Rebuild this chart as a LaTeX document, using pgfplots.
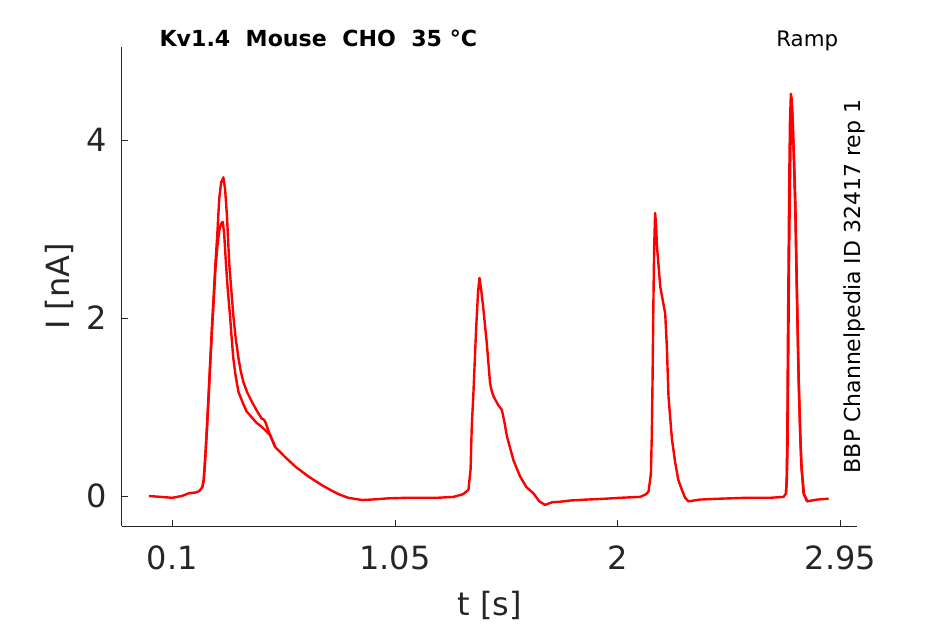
\documentclass[border=0pt]{standalone}
\usepackage{fontspec}
\setmainfont{DejaVu Sans}
\usepackage{pgfplots}
\pgfplotsset{compat=1.18}
\definecolor{axgray}{HTML}{262626}
\definecolor{tracered}{HTML}{FF0000}
\begin{document}
\begin{tikzpicture}
\useasboundingbox (-91.5pt,-73.5pt) rectangle (617.25pt,394.5pt);
\begin{axis}[
  at={(0,0)}, anchor=south west,
  scale only axis, width=551.25pt, height=359.25pt,
  xmin=-0.1146, xmax=3.020, ymin=-0.337, ymax=5.045,
  axis x line*=bottom, axis y line*=left,
  axis line style={color=axgray, line width=0.75pt, -},
  xtick={0.1,1.05,2,2.95}, xticklabels={0.1,1.05,2,2.95},
  ytick={0,2,4},
  tick align=inside, major tick length=4.5pt,
  tick style={color=axgray, line width=0.75pt},
  /pgf/number format/assume math mode=true,
  ticklabel style={font=\fontsize{24}{28}\selectfont, text=axgray},
  xticklabel style={yshift=-11pt},
  yticklabel style={xshift=-7.5pt},
  xlabel={t [s]}, ylabel={I [nA]},
  xlabel style={at={(rel axis cs:0.5,0)}, anchor=center, yshift=-59.25pt, font=\fontsize{24}{28}\selectfont, text=axgray},
  ylabel style={at={(rel axis cs:0,0.5)}, anchor=center, rotate=0, yshift=47.25pt, font=\fontsize{24}{28}\selectfont, text=axgray},
  clip=false,
]
\addplot[color=tracered, line width=1.8pt, line join=round] coordinates {
(0,0) (0.05,-0.01) (0.1,-0.02) (0.14,0.0) (0.17,0.03) (0.2,0.04) (0.215,0.056) (0.228,0.10)
(0.234,0.18) (0.241,0.45) (0.248,0.78) (0.255,1.15) (0.262,1.53) (0.270,1.95) (0.277,2.28)
(0.284,2.62) (0.292,2.95) (0.300,3.34) (0.308,3.52) (0.3176,3.58) (0.325,3.45) (0.333,3.15)
(0.343,2.60) (0.352,2.30) (0.360,2.03) (0.370,1.78) (0.382,1.55) (0.392,1.40) (0.403,1.28)
(0.420,1.16) (0.439,1.06) (0.460,0.96) (0.481,0.87) (0.490,0.86) (0.497,0.83) (0.505,0.77)
(0.517,0.685) (0.539,0.55) (0.58,0.44) (0.625,0.33) (0.68,0.22) (0.739,0.12) (0.78,0.06)
(0.810,0.02) (0.85,-0.02) (0.909,-0.045) (0.95,-0.04) (1.023,-0.026) (1.1,-0.02) (1.165,-0.02)
(1.23,-0.02) (1.299,-0.01) (1.34,0.02) (1.363,0.07) (1.372,0.30) (1.377,0.78) (1.384,1.15)
(1.396,1.90) (1.404,2.30) (1.410,2.45) (1.418,2.30) (1.427,2.09) (1.441,1.72) (1.455,1.27)
(1.462,1.18) (1.470,1.12) (1.490,1.02) (1.505,0.97) (1.515,0.85) (1.527,0.67) (1.555,0.40)
(1.583,0.22) (1.610,0.10) (1.640,0.03) (1.665,-0.06) (1.690,-0.10) (1.72,-0.07) (1.754,-0.064)
(1.8,-0.05) (1.868,-0.04) (1.95,-0.03) (2.010,-0.02) (2.095,-0.01) (2.12,0.02) (2.131,0.05)
(2.141,0.25) (2.145,0.70) (2.148,1.30) (2.152,2.24) (2.155,2.80) (2.159,3.18) (2.163,3.05)
(2.167,2.80) (2.181,2.35) (2.195,2.15) (2.202,2.05) (2.209,1.68) (2.216,1.12) (2.231,0.63)
(2.245,0.37) (2.258,0.18) (2.273,0.07) (2.287,-0.02) (2.301,-0.06) (2.35,-0.04) (2.436,-0.03)
(2.55,-0.02) (2.65,-0.02) (2.707,-0.01) (2.717,0.03) (2.720,0.18) (2.723,0.8) (2.725,1.68)
(2.728,2.6) (2.731,3.55) (2.734,4.2) (2.738,4.52) (2.742,4.45) (2.747,4.11) (2.752,3.7)
(2.757,3.18) (2.764,2.2) (2.771,1.30) (2.777,0.75) (2.782,0.37) (2.792,0.03) (2.807,-0.06)
(2.85,-0.04) (2.899,-0.03)
};
\addplot[color=tracered, line width=1.8pt, line join=round] coordinates {
(0.228,0.10) (0.234,0.18) (0.241,0.45) (0.248,0.78) (0.255,1.12) (0.262,1.50) (0.270,1.90)
(0.277,2.22) (0.284,2.55) (0.292,2.80) (0.300,2.98) (0.308,3.06) (0.315,3.08) (0.321,2.95)
(0.329,2.60) (0.337,2.30) (0.346,2.03) (0.353,1.78) (0.360,1.55) (0.370,1.35) (0.382,1.17)
(0.40,1.05) (0.417,0.95) (0.44,0.88) (0.460,0.82) (0.475,0.79) (0.488,0.76) (0.50,0.73)
(0.517,0.685) (0.539,0.55)
};
\addplot[color=tracered, line width=1.8pt, line join=round] coordinates {
(2.717,0.03) (2.721,0.2) (2.724,0.6) (2.727,1.6) (2.730,2.6) (2.734,3.5) (2.738,4.2)
(2.742,4.38) (2.746,4.2) (2.751,3.8) (2.757,3.3) (2.764,2.3) (2.771,1.35) (2.778,0.7)
(2.784,0.3) (2.794,0.02) (2.807,-0.05)
};
\node[anchor=base west, inner sep=0, font=\bfseries\fontsize{16.6}{19}\selectfont] at (rel axis cs:0.0507,1) {Kv1.4\ \ Mouse\ \ CHO\ \ 35 °C};
\node[anchor=base east, inner sep=0, font=\fontsize{16}{19}\selectfont] at (rel axis cs:0.9746,1) {Ramp};
\node[rotate=90, anchor=base, inner sep=0, font=\fontsize{16.5}{20}\selectfont] at (rel axis cs:1.0041,0.5) {BBP Channelpedia ID 32417 rep 1};
\end{axis}
\end{tikzpicture}
\end{document}
